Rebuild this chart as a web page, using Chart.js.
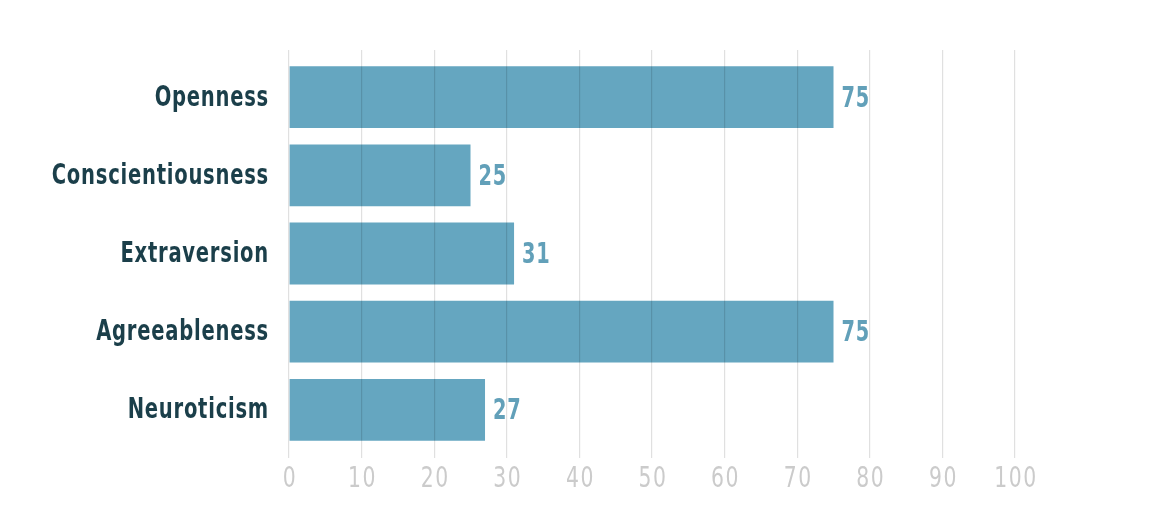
<!DOCTYPE html>
<html><head><meta charset="utf-8">
<script src="https://cdn.jsdelivr.net/npm/chart.js@4"></script>
<style>html,body{margin:0;padding:0;background:#fff}#wrap{width:1170px;height:528px}</style>
</head><body><div id="wrap"><canvas id="c"></canvas></div>
<script>
const categories = ['Openness','Conscientiousness','Extraversion','Agreeableness','Neuroticism'];
const values = [75, 25, 31, 75, 27];
const xTicks = [0,10,20,30,40,50,60,70,80,90,100];

const FONT = "'DejaVu Sans Condensed','DejaVu Sans',sans-serif";

// draw text horizontally condensed (the original uses a narrow typeface)
function narrowText(ctx, text, x, y, sx) {
  ctx.save();
  ctx.translate(x, y);
  ctx.scale(sx, 1);
  ctx.fillText(text, 0, 0);
  ctx.restore();
}

const condensedAxes = {
  id: 'condensedAxes',
  afterUpdate(chart) {
    const y = chart.scales.y, x = chart.scales.x;
    if (!y._narrow) {
      y._narrow = true;
      y.drawLabels = function () {
        const ctx = this.ctx, o = this.options.ticks;
        ctx.save();
        ctx.font = 'bold ' + o.font.size + 'px ' + FONT;
        ctx.fillStyle = o.color;
        ctx.letterSpacing = '1px';
        ctx.textAlign = 'right';
        ctx.textBaseline = 'middle';
        const xr = this.right - o.padding;
        this.ticks.forEach((t, i) => {
          narrowText(ctx, this.getLabelForValue(t.value), xr, this.getPixelForTick(i) + 1, 0.75);
        });
        ctx.restore();
      };
    }
    if (!x._narrow) {
      x._narrow = true;
      x.drawLabels = function () {
        const ctx = this.ctx, o = this.options.ticks;
        ctx.save();
        ctx.font = o.font.size + 'px ' + FONT;
        ctx.fillStyle = o.color;
        ctx.letterSpacing = '2px';
        ctx.textAlign = 'center';
        ctx.textBaseline = 'middle';
        this.ticks.forEach((t, i) => {
          narrowText(ctx, String(t.value), this.getPixelForTick(i) + 1, this.top + 30, 0.78);
        });
        ctx.restore();
      };
    }
  }
};

const valueLabels = {
  id: 'valueLabels',
  afterDatasetsDraw(chart) {
    const ctx = chart.ctx;
    const meta = chart.getDatasetMeta(0);
    ctx.save();
    ctx.font = "bold 29px " + FONT;
    ctx.fillStyle = '#62a0b9';
    ctx.letterSpacing = '1px';
    ctx.textAlign = 'left';
    ctx.textBaseline = 'middle';
    meta.data.forEach((bar, i) => {
      narrowText(ctx, String(values[i]), bar.x + 8, bar.y + 2, 0.74);
    });
    ctx.restore();
  }
};

new Chart(document.getElementById('c'), {
  type: 'bar',
  data: {
    labels: categories,
    datasets: [{
      data: values,
      backgroundColor: '#65a6c0',
      borderWidth: 0,
      barPercentage: 0.79,
      categoryPercentage: 1
    }]
  },
  options: {
    indexAxis: 'y',
    responsive: true,
    maintainAspectRatio: false,
    animation: false,
    devicePixelRatio: 1,
    layout: { padding: { top: 50, right: 155, left: 0, bottom: 0 } },
    plugins: { legend: { display: false }, tooltip: { enabled: false } },
    scales: {
      x: {
        position: 'bottom',
        min: 0, max: 100,
        afterBuildTicks(s) { s.ticks = xTicks.map(v => ({ value: v })); },
        afterFit(s) { s.height = 79; },
        border: { display: false },
        grid: { z: 1, color: 'rgba(0,0,0,0.12)', lineWidth: 1.2, tickLength: 9, drawTicks: true },
        ticks: { color: '#cbcbcb', font: { family: FONT, size: 29 }, padding: 3, maxRotation: 0 }
      },
      xTop: {
        axis: 'x',
        position: 'top',
        min: 0, max: 100,
        afterBuildTicks(s) { s.ticks = xTicks.map(v => ({ value: v })); },
        afterFit(s) { s.height = 8; },
        border: { display: false },
        grid: { color: 'rgba(0,0,0,0.12)', lineWidth: 1.2, tickLength: 8, drawOnChartArea: false },
        ticks: { display: false }
      },
      y: {
        afterFit(s) { s.width = 289; },
        border: { display: false },
        grid: { display: false },
        ticks: { color: '#1b3f4a', font: { family: FONT, size: 29, weight: 'bold' }, padding: 20 }
      }
    }
  },
  plugins: [condensedAxes, valueLabels]
});
</script></body></html>
